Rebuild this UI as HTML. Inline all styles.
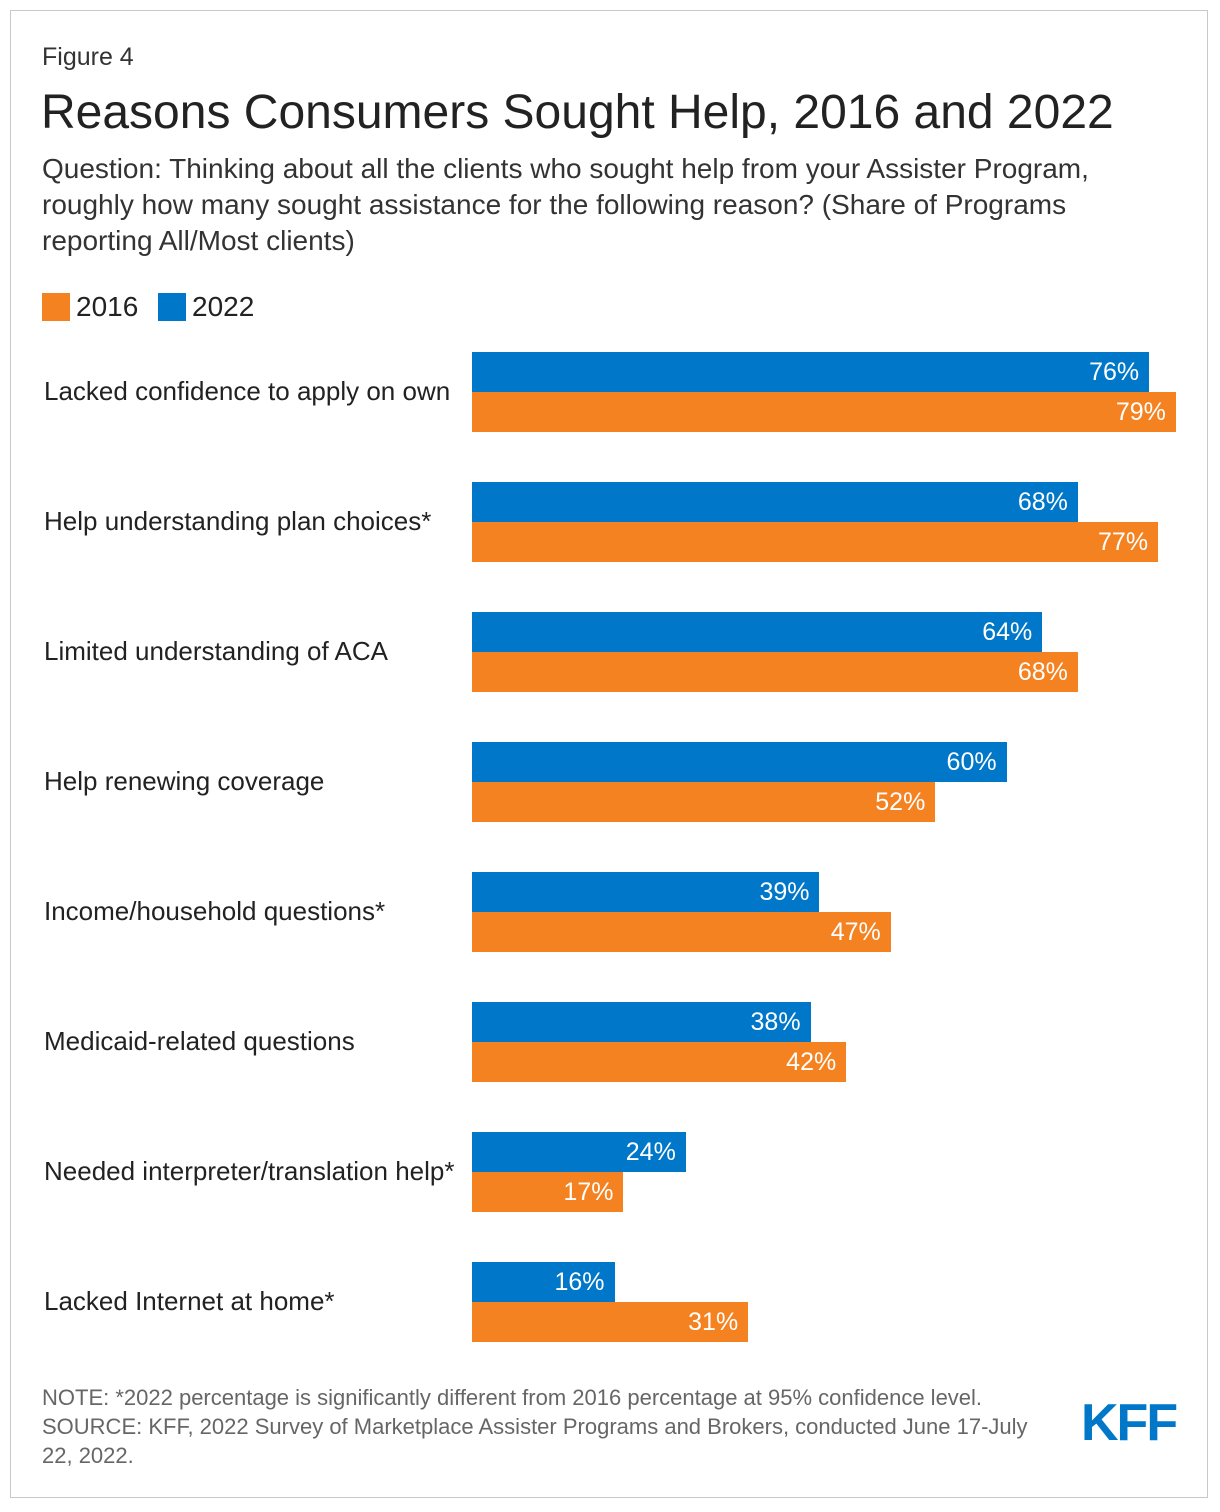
<!DOCTYPE html>
<html><head><meta charset="utf-8">
<style>
body{margin:0;background:#fff;font-family:"Liberation Sans",Arial,sans-serif;}
#wrap{position:relative;width:1220px;height:1512px;overflow:hidden;}
#frame{position:absolute;left:10px;top:10px;width:1198px;height:1488px;border:1px solid #c8c8c8;box-sizing:border-box;}
.t{position:absolute;white-space:nowrap;color:#222;}
</style></head><body>
<div id="wrap">
<div id="frame"></div>
<div class="t" style="left:42px;top:43px;font-size:25px;color:#333">Figure 4</div>
<div class="t" style="left:41px;top:85px;font-size:48px;color:#222">Reasons Consumers Sought Help, 2016 and 2022</div>
<div class="t" style="left:42px;top:151px;font-size:28px;line-height:36px;color:#333">Question: Thinking about all the clients who sought help from your Assister Program,<br>roughly how many sought assistance for the following reason? (Share of Programs<br>reporting All/Most clients)</div>
<div style="position:absolute;left:42px;top:293px;width:28px;height:28px;background:#f58220"></div>
<div class="t" style="left:76px;top:291px;font-size:28px">2016</div>
<div style="position:absolute;left:158px;top:293px;width:28px;height:28px;background:#0077c8"></div>
<div class="t" style="left:192px;top:291px;font-size:28px">2022</div>
<div id="chart"></div>
<div class="t" style="left:42px;top:1383px;font-size:22px;line-height:29px;color:#666">NOTE: *2022 percentage is significantly different from 2016 percentage at 95% confidence level.<br>SOURCE: KFF, 2022 Survey of Marketplace Assister Programs and Brokers, conducted June 17-July<br>22, 2022.</div>
<div class="t" style="left:1081px;top:1393px;font-size:52px;font-weight:bold;color:#0077c8;letter-spacing:-2px">KFF</div>
</div>
<script>
const categories=["Lacked confidence to apply on own","Help understanding plan choices*","Limited understanding of ACA","Help renewing coverage","Income/household questions*","Medicaid-related questions","Needed interpreter/translation help*","Lacked Internet at home*"];
const values2022=[76,68,64,60,39,38,24,16];
const values2016=[79,77,68,52,47,42,17,31];
const x0=472,scale=8.91,top0=352,pitch=130,bh=40;
const xs=v=>v*scale;
const chart=document.getElementById('chart');
function bar(v,y,color,name){
  const d=document.createElement('div');
  
  
  d.style.cssText=`position:absolute;left:${x0}px;top:${y}px;width:${xs(v)}px;height:${bh}px;background:${color};color:#fff;font-size:25px;line-height:${bh}px;text-align:right;box-sizing:border-box;padding-right:10px;white-space:nowrap;`;
  d.textContent=v+'%';
  chart.appendChild(d);
}
categories.forEach((c,i)=>{
  const y=top0+i*pitch;
  const l=document.createElement('div');
  
  
  l.className='t';
  l.style.cssText=`left:44px;top:${y+24}px;font-size:26px;line-height:30px;`;
  l.textContent=c;
  chart.appendChild(l);
  bar(values2022[i],y,'#0077c8','bar-2022');
  bar(values2016[i],y+bh,'#f58220','bar-2016');
});
</script>
</body></html>
